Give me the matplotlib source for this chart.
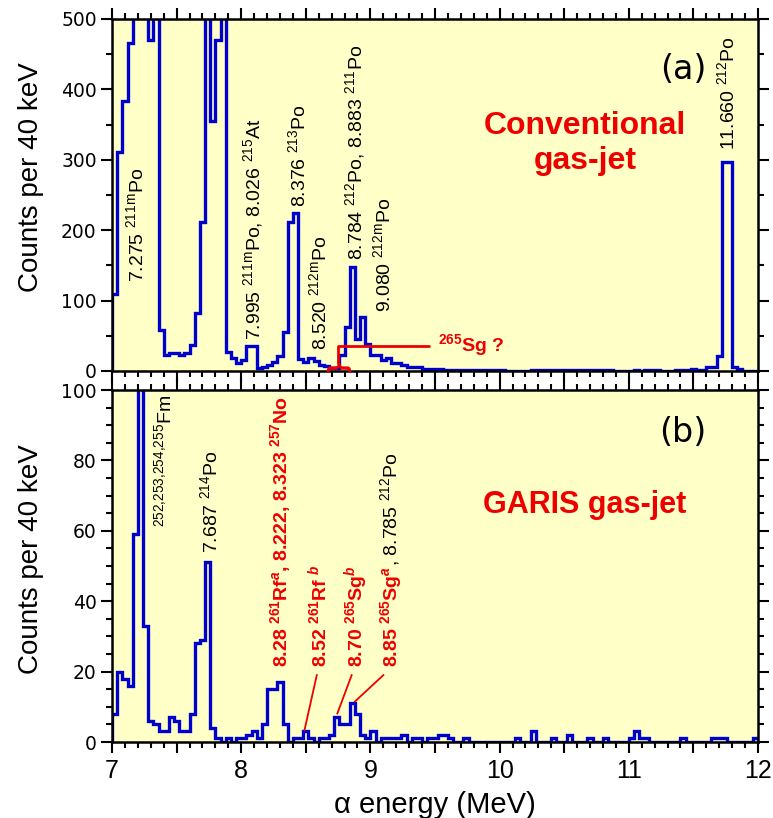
import numpy as np
import matplotlib
matplotlib.use("Agg")
import matplotlib.pyplot as plt
from matplotlib.ticker import MultipleLocator, FuncFormatter

# alpha spectra, 40 keV bins from 7 to 12 MeV (values above the axis limit are off scale)
e_start = 7.0
bin_width = 0.04

counts_conventional = [
    110, 311, 384, 466, 600, 600, 600, 470, 600, 58,
    22, 25, 25, 22, 26, 37, 82, 212, 600, 355,
    470, 600, 27, 18, 11, 16, 36, 36, 4, 6,
    9, 13, 21, 56, 211, 224, 17, 13, 18, 14,
    9, 7, 4, 4, 23, 62, 148, 45, 77, 38,
    22, 22, 16, 18, 11, 11, 8, 6, 5, 5,
    3, 3, 3, 3, 2, 1, 1, 1, 1, 1,
    1, 1, 1, 1, 1, 1, 0, 0, 0, 0,
    0, 1, 1, 1, 1, 1, 1, 1, 1, 2,
    1, 1, 1, 1, 1, 1, 1, 0, 0, 0,
    0, 1, 0, 1, 1, 1, 0, 0, 0, 1,
    2, 1, 3, 1, 2, 5, 5, 21, 297, 297,
    6, 3, 0, 0, 0,
]

counts_garis = [
    8, 20, 18, 16, 59, 150, 33, 6, 5, 3,
    3, 7, 6, 3, 3, 8, 28, 29, 51, 4,
    1, 0, 1, 0, 1, 1, 2, 3, 1, 5,
    15, 15, 17, 5, 0, 1, 1, 3, 1, 0,
    1, 1, 2, 7, 5, 5, 11, 8, 2, 1,
    3, 0, 1, 1, 1, 1, 2, 0, 1, 1,
    0, 1, 1, 2, 2, 1, 0, 0, 1, 0,
    0, 0, 0, 0, 0, 0, 0, 0, 1, 0,
    0, 3, 0, 0, 0, 1, 0, 0, 2, 0,
    0, 0, 1, 0, 0, 1, 0, 0, 0, 0,
    1, 3, 1, 1, 0, 0, 0, 0, 0, 0,
    1, 0, 0, 0, 0, 0, 1, 1, 1, 0,
    0, 0, 0, 0, 1,
]

edges = e_start + bin_width * np.arange(len(counts_conventional) + 1)

BLUE = "#0000cc"
RED = "#ee0000"
BG = "#ffffc8"

plt.rcParams["font.family"] = ["Liberation Sans", "DejaVu Sans"]
plt.rcParams["mathtext.fontset"] = "custom"
plt.rcParams["mathtext.rm"] = "Liberation Sans"
plt.rcParams["mathtext.it"] = "Liberation Sans:italic"
plt.rcParams["mathtext.bf"] = "Liberation Sans:bold"
plt.rcParams["mathtext.bfit"] = "Liberation Sans:italic:bold"

fig = plt.figure(figsize=(7.73, 8.18), dpi=100)
ax1 = fig.add_axes([0.1449, 0.5465, 0.8357, 0.4303])
ax2 = fig.add_axes([0.1449, 0.0929, 0.8357, 0.4303])


def style_axis(ax, ymax, ymajor, yminor, ylabel_y):
    ax.set_facecolor(BG)
    ax.set_xlim(7, 12)
    ax.set_ylim(0, ymax)
    for sp in ax.spines.values():
        sp.set_linewidth(1.8)
    ax.xaxis.set_major_locator(MultipleLocator(0.5))
    ax.xaxis.set_minor_locator(MultipleLocator(0.1))
    ax.xaxis.set_major_formatter(FuncFormatter(lambda v, p: f"{v:.0f}" if abs(v - round(v)) < 1e-6 else ""))
    ax.yaxis.set_major_locator(MultipleLocator(ymajor))
    ax.yaxis.set_minor_locator(MultipleLocator(yminor))
    ax.tick_params(which="both", direction="out", top=True, right=True, width=1.5)
    ax.tick_params(which="major", length=8)
    ax.tick_params(which="minor", length=4.5)
    ax.tick_params(axis="x", labelsize=18, pad=4)
    ax.tick_params(axis="y", labelsize=13.5, pad=3)
    for lbl in ax.get_yticklabels():
        lbl.set_fontfamily("DejaVu Sans")
    ax.set_ylabel("Counts per 40 keV", fontsize=20)
    ax.yaxis.set_label_coords(-0.105, ylabel_y)


style_axis(ax1, 500, 100, 50, 0.55)
style_axis(ax2, 100, 20, 5, 0.52)
ax1.tick_params(axis="x", labelbottom=False)

ax1.stairs(counts_conventional, edges, color=BLUE, lw=2.4, baseline=0)
ax2.stairs(counts_garis, edges, color=BLUE, lw=2.4, baseline=0)

ax2.set_xlabel("α energy (MeV)", fontsize=21, labelpad=6)

LABEL_SIZE = 14


def vlabel(ax, x, y, s, color="black", weight="normal", size=LABEL_SIZE):
    # x is the centre of the glyphs; shift to the text baseline
    return ax.text(x + 0.054, y, s, rotation=90, rotation_mode="anchor",
                   ha="left", va="baseline", color=color,
                   fontweight=weight, fontsize=size)


# (a) conventional gas-jet
top_labels = [
    (7.19, 126, r"7.275 $^{\mathrm{211m}}$Po"),
    (8.09, 44, r"7.995 $^{\mathrm{211m}}$Po, 8.026 $^{\mathrm{215}}$At"),
    (8.44, 233, r"8.376 $^{\mathrm{213}}$Po"),
    (8.60, 30, r"8.520 $^{\mathrm{212m}}$Po"),
    (8.88, 158, r"8.784 $^{\mathrm{212}}$Po, 8.883 $^{\mathrm{211}}$Po"),
    (9.10, 84, r"9.080 $^{\mathrm{212m}}$Po"),
    (11.76, 314, r"11.660 $^{\mathrm{212}}$Po"),
]
for x, y, s in top_labels:
    vlabel(ax1, x, y, s)

ax1.text(11.42, 428, "(a)", fontsize=24, family="DejaVu Sans", ha="center", va="center")
ax1.text(10.66, 323, "Conventional\ngas-jet", color=RED, fontsize=23, fontweight="bold",
         ha="center", va="center", linespacing=1.25)

# possible 265Sg events
ax1.text(8.745, 5, "{", rotation=-90, color=RED, fontsize=19, fontweight="bold",
         ha="center", va="center")
ax1.plot([8.752, 8.752, 9.46], [10, 36, 36], color=RED, lw=2.0, solid_capstyle="butt")
ax1.text(9.52, 37, r"$^{\mathbf{265}}$Sg ?", color=RED, fontsize=14, fontweight="bold",
         ha="left", va="center")

# (b) GARIS gas-jet
bottom_labels = [
    (7.40, 61, r"$^{\mathrm{252{,}253{,}254{,}255}}$Fm", "black", "normal"),
    (7.76, 53.6, r"7.687 $^{\mathrm{214}}$Po", "black", "normal"),
    (8.30, 21.4, r"8.28 $^{\mathbf{261}}$Rf$^{\mathbfit{a}}$, 8.222, 8.323 $^{\mathbf{257}}$No", RED, "bold"),
    (8.60, 21.4, r"8.52 $^{\mathbf{261}}$Rf $^{\mathbfit{b}}$", RED, "bold"),
    (8.88, 21.4, r"8.70 $^{\mathbf{265}}$Sg$^{\mathbfit{b}}$", RED, "bold"),
]
for x, y, s, c, w in bottom_labels:
    vlabel(ax2, x, y, s, color=c, weight=w)

sg_a = vlabel(ax2, 9.15, 21.4, r"8.85 $^{\mathbf{265}}$Sg$^{\mathbfit{a}}$", color=RED, weight="bold")
fig.canvas.draw()
bb = sg_a.get_window_extent()
x_disp = ax2.transData.transform((9.15 + 0.054, 0))[0]
y_end = ax2.transData.inverted().transform((x_disp, bb.y1))[1]
ax2.text(9.15 + 0.054, y_end, r", 8.785 $^{\mathrm{212}}$Po", rotation=90, rotation_mode="anchor",
         ha="left", va="baseline", fontsize=LABEL_SIZE)

# pointers from the labels to the candidate peaks
pointers = [
    ((8.585, 19), (8.49, 3.4)),
    ((8.855, 19), (8.744, 8.1)),
    ((9.10, 19), (8.88, 11.5)),
]
for (x0, y0), (x1, y1) in pointers:
    ax2.plot([x0, x1], [y0, y1], color=RED, lw=1.3)

ax2.text(11.42, 88, "(b)", fontsize=24, family="DejaVu Sans", ha="center", va="center")
ax2.text(10.66, 67.3, "GARIS gas-jet", color=RED, fontsize=22, fontweight="bold",
         ha="center", va="center")

fig.savefig("out.png", dpi=100)
